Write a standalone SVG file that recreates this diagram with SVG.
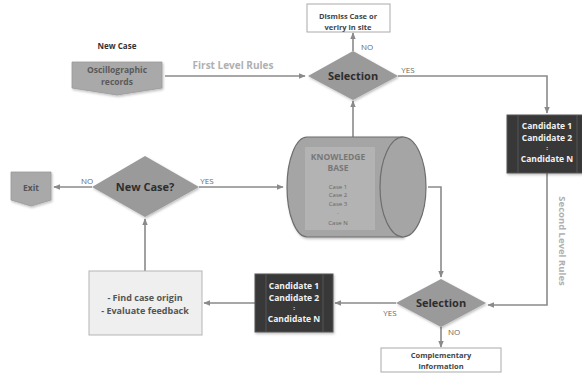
<svg xmlns="http://www.w3.org/2000/svg" width="582" height="373" viewBox="0 0 582 373">
<defs>
<marker id="ah" viewBox="0 0 10 10" refX="9" refY="5" markerWidth="7" markerHeight="7" orient="auto-start-reverse" markerUnits="userSpaceOnUse">
<path d="M0,1 L10,5 L0,9 Z" fill="#8a8a8a"/>
</marker>
<filter id="sh" x="-10%" y="-10%" width="130%" height="130%">
<feDropShadow dx="1" dy="1.5" stdDeviation="1.2" flood-color="#000" flood-opacity="0.25"/>
</filter>
<style>
text{font-family:"Open Sans","Liberation Sans",sans-serif;text-anchor:middle;}
.c{fill:none;stroke:#8a8a8a;stroke-width:1.6;}
.a{marker-end:url(#ah);}
.dia{fill:#9a9a9a;filter:url(#sh);}
.dt{font-size:11px;font-weight:bold;fill:#2e2e2e;}
.lbl{font-size:8px;fill:#666;}
.cand{fill:#383838;stroke:#555;stroke-width:1;filter:url(#sh);}
.ct{font-size:8.5px;font-weight:bold;fill:#f2f2f2;}
.wb{fill:#fff;stroke:#aaa;stroke-width:1;}
.wt{font-size:7.5px;font-weight:bold;fill:#444;}
</style>
</defs>
<rect width="582" height="373" fill="#fff"/>
<g id="connectors">
<path class="c" d="M165,76 L305,76" marker-end="url(#ah)"/>
<path class="c a" d="M353,51 L353,33"/>
<path class="c" d="M398,76 L547,76 L547,113" marker-end="url(#ah)"/>
<path class="c a" d="M353,137 L353,101"/>
<path class="c" d="M547,173 L547,305 L488,305" marker-end="url(#ah)"/>
<path class="c" d="M428,187 L441,187 L441,277" marker-end="url(#ah)"/>
<path class="c a" d="M396,303 L335,303"/>
<path class="c a" d="M441,327 L441,347"/>
<path class="c a" d="M255,303 L204,303"/>
<path class="c a" d="M145,271 L145,219"/>
<path class="c a" d="M92,187 L54,187"/>
<path class="c a" d="M199,187 L283,187"/>
<text x="233" y="69" style="font-size:10px;font-weight:bold;fill:#b0b0b0">First Level Rules</text>
<text x="367" y="50" class="lbl">NO</text>
<text x="408" y="73" class="lbl">YES</text>
<text x="87" y="184" class="lbl">NO</text>
<text x="207" y="184" class="lbl">YES</text>
<text x="390" y="316" class="lbl">YES</text>
<text x="454" y="335" class="lbl">NO</text>
<text transform="translate(559,241) rotate(90)" style="font-size:9.5px;font-weight:bold;fill:#b0b0b0">Second Level Rules</text>
</g>
<g id="new-case-label">
<text x="117" y="49" style="font-size:8px;font-weight:bold;fill:#333">New Case</text>
</g>
<g id="oscillographic">
<path d="M72,62 L162,62 L162,88 L117,95 L72,88 Z" fill="#a9a9a9" stroke="#999" stroke-width="0.8" filter="url(#sh)"/>
<text x="117" y="73" style="font-size:8.5px;font-weight:bold;fill:#5a5a5a">Oscillographic</text>
<text x="117" y="85" style="font-size:8.5px;font-weight:bold;fill:#5a5a5a">records</text>
</g>
<g id="dismiss">
<rect class="wb" x="307" y="4" width="83" height="28"/>
<text x="348" y="19" class="wt">Dismiss Case or</text>
<text x="348" y="30" class="wt">veriry in site</text>
</g>
<g id="selection-top">
<polygon class="dia" points="353,51 398,76 353,100 308,76"/>
<text x="353" y="80" class="dt">Selection</text>
</g>
<g id="candidates-top">
<rect class="cand" x="507" y="115" width="80" height="58"/>
<line x1="518" y1="115" x2="518" y2="173" stroke="#555"/>
<line x1="577" y1="115" x2="577" y2="173" stroke="#555"/>
<text x="547" y="129" class="ct">Candidate 1</text>
<text x="547" y="141" class="ct">Candidate 2</text>
<text x="547" y="150" class="ct" style="font-size:6px">:</text>
<text x="547" y="162" class="ct">Candidate N</text>
</g>
<g id="knowledge-base">
<path d="M307,137 L403,137 L403,237 L307,237 A20,50 0 0 1 307,137 Z" fill="#a5a5a5" stroke="#6e6e6e" stroke-width="1.2" filter="url(#sh)"/>
<rect x="305" y="147" width="70" height="83" fill="#b3b3b3"/>
<ellipse cx="403" cy="187" rx="23" ry="50" fill="#a5a5a5" stroke="#6e6e6e" stroke-width="1.2"/>
<text x="338" y="160" style="font-size:8.5px;font-weight:bold;fill:#777">KNOWLEDGE</text>
<text x="338" y="171" style="font-size:8.5px;font-weight:bold;fill:#777">BASE</text>
<text x="338" y="189" style="font-size:6px;fill:#666">Case 1</text>
<text x="338" y="197" style="font-size:6px;fill:#666">Case 2</text>
<text x="338" y="206" style="font-size:6px;fill:#666">Case 3</text>
<text x="338" y="214" style="font-size:6px;fill:#666">.</text>
<text x="338" y="225" style="font-size:6px;fill:#666">Case N</text>
</g>
<g id="new-case-decision">
<polygon class="dia" points="145,156 199,187 145,217 92,187"/>
<text x="145" y="191" class="dt">New Case?</text>
</g>
<g id="exit">
<path d="M11,172 L51,172 L51,200 L31,206 L11,200 Z" fill="#a9a9a9" stroke="#999" stroke-width="0.8" filter="url(#sh)"/>
<text x="31" y="191" style="font-size:8.5px;font-weight:bold;fill:#555">Exit</text>
</g>
<g id="selection-bottom">
<polygon class="dia" points="441,279 486,303 441,327 396,303"/>
<text x="441" y="307" class="dt">Selection</text>
</g>
<g id="candidates-bottom">
<rect class="cand" x="255" y="274" width="78" height="58"/>
<line x1="266" y1="274" x2="266" y2="332" stroke="#555"/>
<line x1="323" y1="274" x2="323" y2="332" stroke="#555"/>
<text x="294" y="289" class="ct">Candidate 1</text>
<text x="294" y="301" class="ct">Candidate 2</text>
<text x="294" y="310" class="ct" style="font-size:6px">:</text>
<text x="294" y="322" class="ct">Candidate N</text>
</g>
<g id="complementary">
<rect class="wb" x="381" y="348" width="120" height="24"/>
<text x="441" y="358" class="wt">Complementary</text>
<text x="441" y="369" class="wt">information</text>
</g>
<g id="find-origin">
<rect x="89" y="271" width="113" height="64" fill="#efefef" stroke="#b5b5b5" stroke-width="1"/>
<text x="145" y="301" style="font-size:9px;font-weight:bold;fill:#555">- Find case origin</text>
<text x="145" y="314" style="font-size:9px;font-weight:bold;fill:#555">- Evaluate feedback</text>
</g>
</svg>
